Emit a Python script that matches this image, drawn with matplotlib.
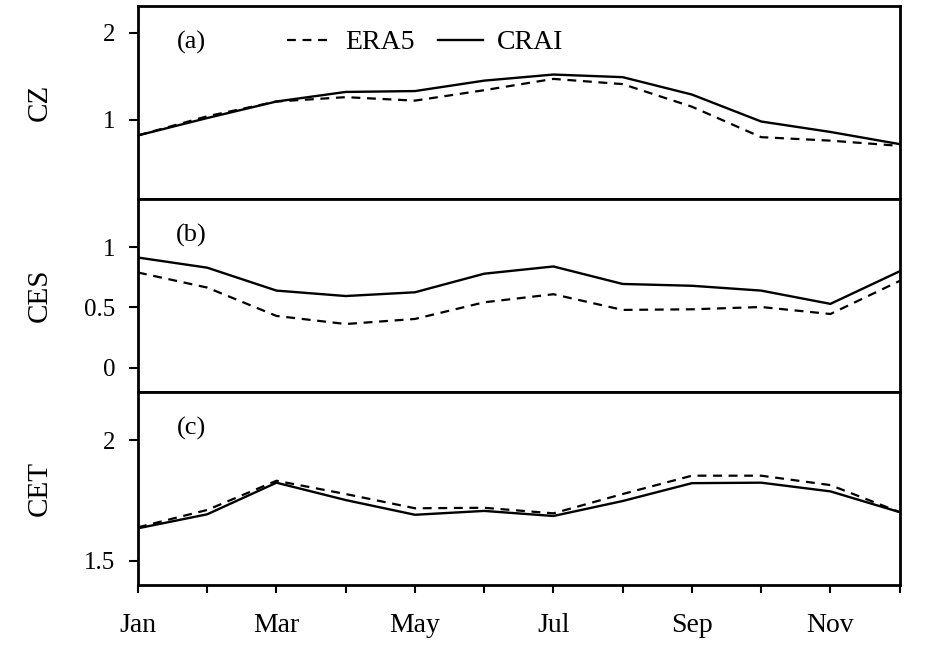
import matplotlib
matplotlib.use("Agg")
import matplotlib.pyplot as plt
import numpy as np

months = ["Jan", "Feb", "Mar", "Apr", "May", "Jun", "Jul", "Aug", "Sep", "Oct", "Nov", "Dec"]
tick_labels = ["Jan", "", "Mar", "", "May", "", "Jul", "", "Sep", "", "Nov", ""]

cz_era5 = [0.82, 1.04, 1.21, 1.26, 1.22, 1.34, 1.47, 1.41, 1.15, 0.80, 0.76, 0.70]
cz_crai = [0.82, 1.02, 1.21, 1.32, 1.33, 1.45, 1.52, 1.49, 1.29, 0.98, 0.86, 0.72]

ces_era5 = [0.79, 0.665, 0.43, 0.363, 0.405, 0.543, 0.61, 0.48, 0.485, 0.504, 0.446, 0.72]
ces_crai = [0.914, 0.83, 0.64, 0.595, 0.626, 0.78, 0.84, 0.695, 0.68, 0.64, 0.53, 0.80]

cet_era5 = [1.639, 1.711, 1.832, 1.777, 1.718, 1.72, 1.697, 1.777, 1.853, 1.853, 1.814, 1.702]
cet_crai = [1.635, 1.693, 1.824, 1.752, 1.691, 1.707, 1.686, 1.748, 1.822, 1.824, 1.788, 1.702]

panels = [
    ("CZ", "(a)", cz_era5, cz_crai, (0.09, 2.31), [1, 2], ["1", "2"]),
    ("CES", "(b)", ces_era5, ces_crai, (-0.2, 1.4), [0, 0.5, 1], ["0", "0.5", "1"]),
    ("CET", "(c)", cet_era5, cet_crai, (1.4, 2.2), [1.5, 2], ["1.5", "2"]),
]

plt.rcParams["font.family"] = ["Liberation Serif", "DejaVu Serif"]

fig, axes = plt.subplots(3, 1, figsize=(9.45, 6.5), dpi=100, sharex=True)
fig.subplots_adjust(left=0.146, right=0.952, top=0.991, bottom=0.1, hspace=0)

x = np.arange(len(months))
for i, (ax, (ylab, tag, era5, crai, ylim, yt, ytl)) in enumerate(zip(axes, panels)):
    ax.plot(x, era5, color="black", lw=1.6, ls=(0, (4, 3)), label="ERA5")
    ax.plot(x, crai, color="black", lw=1.7, ls="-", label="CRAI")
    ax.set_xlim(0, 11)
    ax.set_ylim(*ylim)
    ax.set_yticks(yt)
    ax.set_yticklabels(ytl)
    ax.tick_params(axis="y", direction="out", length=6.5, width=1.5, labelsize=18, pad=10)
    ax.tick_params(axis="x", direction="out", length=5.5, width=1.5, labelsize=20, pad=15)
    for s in ax.spines.values():
        s.set_linewidth(2.0)
    ax.set_ylabel(ylab, fontsize=21)
    ax.yaxis.set_label_coords(-0.112, 0.5)
    ax.text(0.07, 0.81, tag, transform=ax.transAxes, fontsize=19, ha="center", va="center")
    if i < 2:
        ax.tick_params(axis="x", length=0, labelbottom=False)

axes[2].set_xticks(x)
axes[2].set_xticklabels(tick_labels)

axes[0].legend(loc="center", bbox_to_anchor=(0.377, 0.81), ncol=2, frameon=False,
               fontsize=20, handlelength=1.6, handletextpad=0.5, columnspacing=0.85,
               borderpad=0, borderaxespad=0)

fig.savefig("out.png", dpi=100)
